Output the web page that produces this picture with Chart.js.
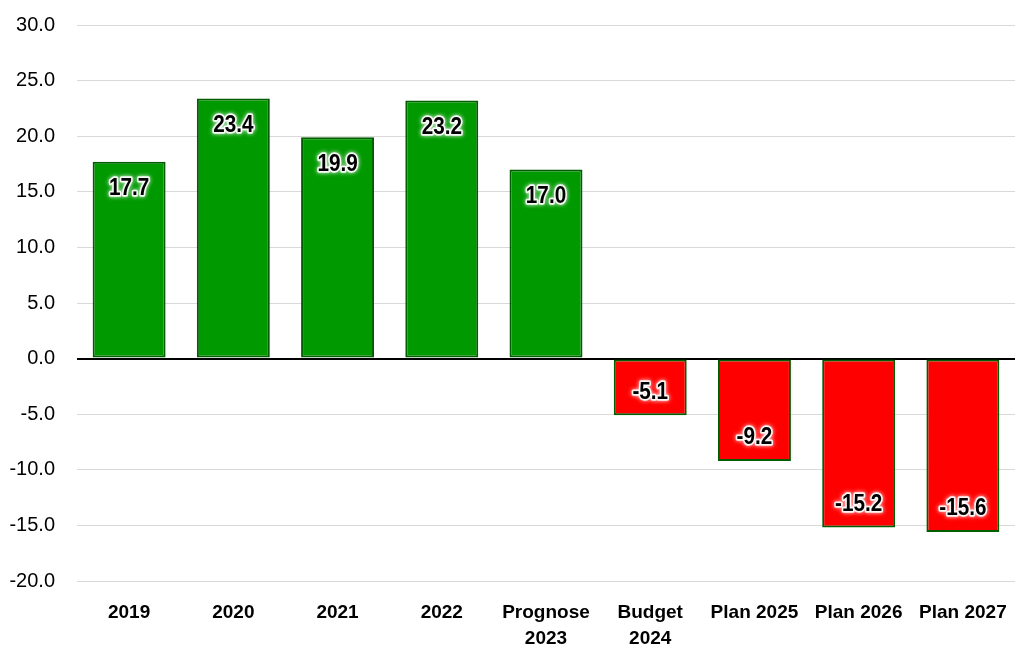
<!DOCTYPE html>
<html lang="de">
<head>
    <meta charset="UTF-8">
    <title>Ergebnis</title>
    <script src="https://cdn.jsdelivr.net/npm/chart.js"></script>
    <style>
        * { margin: 0; padding: 0; box-sizing: border-box; }
        body { background: #ffffff; width: 1015px; height: 648px; overflow: hidden; }
        .chart-container { position: relative; width: 1015px; height: 648px; }
    </style>
</head>
<body>
    <div class="chart-container">
        <canvas id="resultChart"></canvas>
    </div>

    <script>
        const categories = ['2019', '2020', '2021', '2022', ['Prognose', '2023'], ['Budget', '2024'], 'Plan 2025', 'Plan 2026', 'Plan 2027'];
        const values = [17.7, 23.4, 19.9, 23.2, 17.0, -5.1, -9.2, -15.2, -15.6];
        const yMin = -20;
        const yMax = 30;
        const yStep = 5;

        const fontFamily = '"Liberation Sans", Arial, sans-serif';

        // draws the value inside the bar end, black text with a white glow
        const valueLabels = {
            id: 'valueLabels',
            afterDatasetsDraw(chart) {
                const ctx = chart.ctx;
                const meta = chart.getDatasetMeta(0);
                ctx.save();
                ctx.font = 'bold 23px ' + fontFamily;
                ctx.textAlign = 'center';
                ctx.textBaseline = 'middle';
                meta.data.forEach((bar, i) => {
                    const v = values[i];
                    const y = v >= 0 ? bar.y + 27 : bar.y - 23;
                    const text = v.toFixed(1);
                    ctx.save();
                    ctx.translate(bar.x, y);
                    ctx.scale(0.9, 1);
                    ctx.shadowColor = '#ffffff';
                    ctx.shadowBlur = 4;
                    ctx.lineJoin = 'round';
                    ctx.strokeStyle = 'rgba(255,255,255,0.9)';
                    ctx.lineWidth = 3.5;
                    ctx.strokeText(text, 0, 0);
                    ctx.shadowBlur = 0;
                    ctx.fillStyle = '#000000';
                    ctx.fillText(text, 0, 0);
                    ctx.restore();
                });
                ctx.restore();
            }
        };

        const ctx = document.getElementById('resultChart').getContext('2d');
        new Chart(ctx, {
            type: 'bar',
            data: {
                labels: categories,
                datasets: [{
                    data: values,
                    backgroundColor: values.map(v => v >= 0 ? '#009900' : '#ff0000'),
                    borderColor: '#005e00',
                    borderWidth: 2,
                    borderSkipped: false,
                    categoryPercentage: 1.0,
                    barPercentage: 0.7
                }]
            },
            options: {
                responsive: true,
                maintainAspectRatio: false,
                animation: false,
                layout: {
                    padding: { top: 25, right: 0, bottom: 0, left: 0 }
                },
                scales: {
                    x: {
                        grid: { display: false },
                        border: { display: false },
                        ticks: {
                            color: '#000000',
                            padding: 10,
                            maxRotation: 0,
                            autoSkip: false,
                            font: { family: fontFamily, size: 19, weight: 'bold', lineHeight: 1.4 }
                        },
                        afterFit(scale) {
                            scale.height = 67;
                            scale.paddingLeft = 0;
                            scale.paddingRight = 0;
                        }
                    },
                    y: {
                        min: yMin,
                        max: yMax,
                        border: { display: false },
                        grid: {
                            drawTicks: false,
                            color: c => c.tick && c.tick.value === 0 ? '#000000' : '#d9d9d9',
                            lineWidth: c => c.tick && c.tick.value === 0 ? 2 : 1
                        },
                        ticks: {
                            stepSize: yStep,
                            color: '#000000',
                            padding: 22,
                            font: { family: fontFamily, size: 20 },
                            callback: v => v.toFixed(1)
                        },
                        afterFit(scale) {
                            scale.width = 77;
                            scale.paddingTop = 0;
                            scale.paddingBottom = 0;
                        }
                    }
                },
                plugins: {
                    legend: { display: false },
                    tooltip: { enabled: false }
                }
            },
            plugins: [valueLabels]
        });
    </script>
</body>
</html>
